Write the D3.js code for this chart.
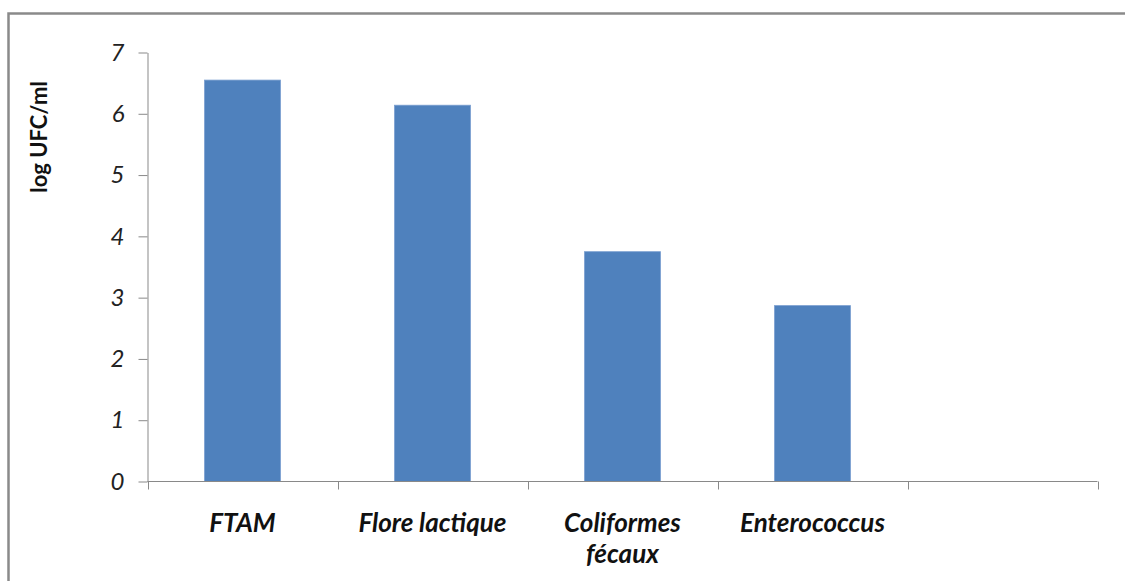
<!DOCTYPE html>
<html>
<head>
<meta charset="utf-8">
<script src="https://cdn.jsdelivr.net/npm/d3@7/dist/d3.min.js"></script>
<style>
  html, body { margin: 0; padding: 0; background: #fff; }
  svg { display: block; }
</style>
</head>
<body>
<svg id="chart" width="1125" height="581"></svg>
<script>
// Bacterial counts (log UFC/ml) per microbial group
const categories = ["FTAM", "Flore lactique", "Coliformes fécaux", "Enterococcus", ""];
const values = [6.55, 6.14, 3.75, 2.87, null];
const categoryLines = [["FTAM"], ["Flore lactique"], ["Coliformes", "fécaux"], ["Enterococcus"], []];
const yTicks = [0, 1, 2, 3, 4, 5, 6, 7];
const yTitle = "log UFC/ml";

const svg = d3.select("#chart");
const axisColor = "#898989";
const font = "Lato, 'Open Sans', sans-serif";

// Outer frame of the chart area
svg.append("rect")
  .attr("x", 8.5).attr("y", 13.5)
  .attr("width", 1140).attr("height", 600)
  .attr("fill", "none")
  .attr("stroke", "#8a8a8a")
  .attr("stroke-width", 2.5);

const plot = { left: 147.5, right: 1097.5, top: 52.5, bottom: 481.5 };

const x = d3.scaleBand()
  .domain(categories.map((d, i) => i))
  .range([plot.left, plot.right])
  .paddingInner(0.6)
  .paddingOuter(0.3);

const y = d3.scaleLinear()
  .domain([0, 7])
  .range([plot.bottom, plot.top]);

// Bars
svg.append("g")
  .selectAll("rect")
  .data(values.map((v, i) => ({ v, i })).filter(d => d.v !== null))
  .join("rect")
  .attr("x", d => x(d.i))
  .attr("width", x.bandwidth())
  .attr("y", d => y(d.v))
  .attr("height", d => y(0) - y(d.v))
  .attr("fill", "#4F81BD")
  .attr("stroke", "#7a9fd0")
  .attr("stroke-width", 0.8);

// Y axis
const yAxis = svg.append("g")
  .attr("transform", `translate(${plot.left},0)`)
  .call(d3.axisLeft(y).tickValues(yTicks).tickFormat(d3.format("d"))
    .tickSize(9).tickPadding(14).tickSizeOuter(0));
yAxis.select(".domain").attr("stroke", axisColor);
yAxis.selectAll(".tick line").attr("stroke", axisColor);
yAxis.selectAll(".tick text")
  .attr("fill", "#222")
  .style("font-family", font)
  .style("font-style", "italic")
  .style("font-size", "24px");

// X axis line with ticks on category boundaries
const step = x.step();
const boundaries = d3.range(categories.length + 1).map(i => plot.left + i * step);
const xAxis = svg.append("g");
xAxis.append("line")
  .attr("x1", plot.left).attr("x2", plot.right)
  .attr("y1", plot.bottom).attr("y2", plot.bottom)
  .attr("stroke", axisColor);
xAxis.selectAll("line.bt")
  .data(boundaries)
  .join("line")
  .attr("class", "bt")
  .attr("x1", d => Math.round(d) + 0.5).attr("x2", d => Math.round(d) + 0.5)
  .attr("y1", plot.bottom).attr("y2", plot.bottom + 8)
  .attr("stroke", axisColor);

// Category labels
const labels = svg.append("g")
  .style("font-family", font)
  .style("font-style", "italic")
  .style("font-weight", "bold")
  .style("font-size", "26px")
  .attr("fill", "#111")
  .attr("text-anchor", "middle");
categoryLines.forEach((lines, i) => {
  const cx = x(i) + x.bandwidth() / 2;
  const t = labels.append("text").attr("x", cx).attr("y", 532);
  lines.forEach((ln, j) => {
    t.append("tspan").attr("x", cx).attr("y", 532 + j * 31).text(ln);
  });
});

// Y axis title
svg.append("text")
  .attr("transform", "translate(47,137) rotate(-90)")
  .attr("text-anchor", "middle")
  .style("font-family", font)
  .style("font-weight", "bold")
  .style("font-size", "22px")
  .attr("fill", "#111")
  .text(yTitle);
</script>
</body>
</html>
